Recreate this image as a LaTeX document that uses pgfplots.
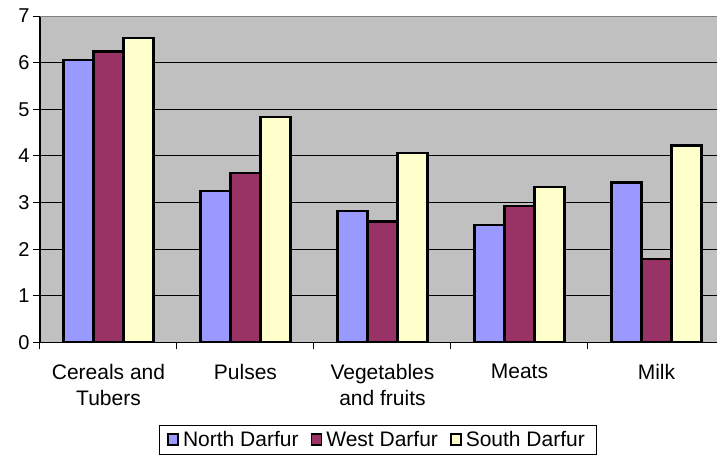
\documentclass[border=0pt]{standalone}
\usepackage{fontspec}
\setmainfont{Liberation Sans}
\usepackage{pgfplots}
\pgfplotsset{compat=1.18}
\definecolor{north}{HTML}{9999FF}
\definecolor{west}{HTML}{993366}
\definecolor{south}{HTML}{FFFFCC}
\definecolor{plotbg}{HTML}{C0C0C0}
\pgfplotsset{sqlegend/.style={legend image code/.code={\draw[#1,draw=black,line width=1.8pt] (0pt,-5pt) rectangle (10pt,6pt);}}}
\begin{document}
\begin{tikzpicture}
\path[use as bounding box] (0pt,0pt) rectangle (717pt,-457pt);
\begin{axis}[
  at={(40pt,-342.3pt)}, anchor=south west,
  scale only axis, width=677pt, height=326.3pt,
  xmin=-0.5, xmax=4.442, ymin=0, ymax=7,
  axis x line*=bottom, axis y line*=left,
  axis line style={line width=1.2pt, black, -},
  axis background/.style={fill=plotbg},
  ybar=0pt, bar width=30pt,
  ytick={0,...,7}, ymajorgrids, grid style={black, line width=0.9pt},
  xtick={-0.5,0.5,1.5,2.5,3.5}, xticklabels={,,,,,},
  extra x ticks={0,1,2,3,4},
  extra x tick labels={Cereals and\\Tubers, Pulses, Vegetables\\and fruits, Meats, Milk},
  extra x tick style={major tick length=0pt, grid=none, tick label style={align=center, font=\fontsize{21}{26.7}\selectfont, yshift=-18pt}},
  tick align=outside, major tick length=7pt, tick style={black, line width=1pt},
  yticklabel style={font=\fontsize{20}{24}\selectfont},
  /pgf/number format/assume math mode=true,
  legend columns=3,
  legend style={at={(0.4993,-0.2994)}, anchor=center, draw=black, line width=0.8pt,
    font=\fontsize{21}{24}\selectfont, inner xsep=8pt, inner ysep=4.5pt,
    nodes={inner xsep=4pt},
    /tikz/every even column/.append style={column sep=8pt}},
]
\addplot[fill=north, draw=black, line width=2.2pt, sqlegend] coordinates {(0,6.06) (1,3.25) (2,2.82) (3,2.52) (4,3.43)};
\addplot[fill=west, draw=black, line width=2.2pt, sqlegend] coordinates {(0,6.24) (1,3.63) (2,2.59) (3,2.92) (4,1.79)};
\addplot[fill=south, draw=black, line width=2.2pt, sqlegend] coordinates {(0,6.52) (1,4.83) (2,4.06) (3,3.34) (4,4.22)};
\legend{North Darfur, West Darfur, South Darfur}
\draw[color=gray, line width=1.3pt] (rel axis cs:0,1) -- (rel axis cs:1,1);
\end{axis}
\end{tikzpicture}
\end{document}
